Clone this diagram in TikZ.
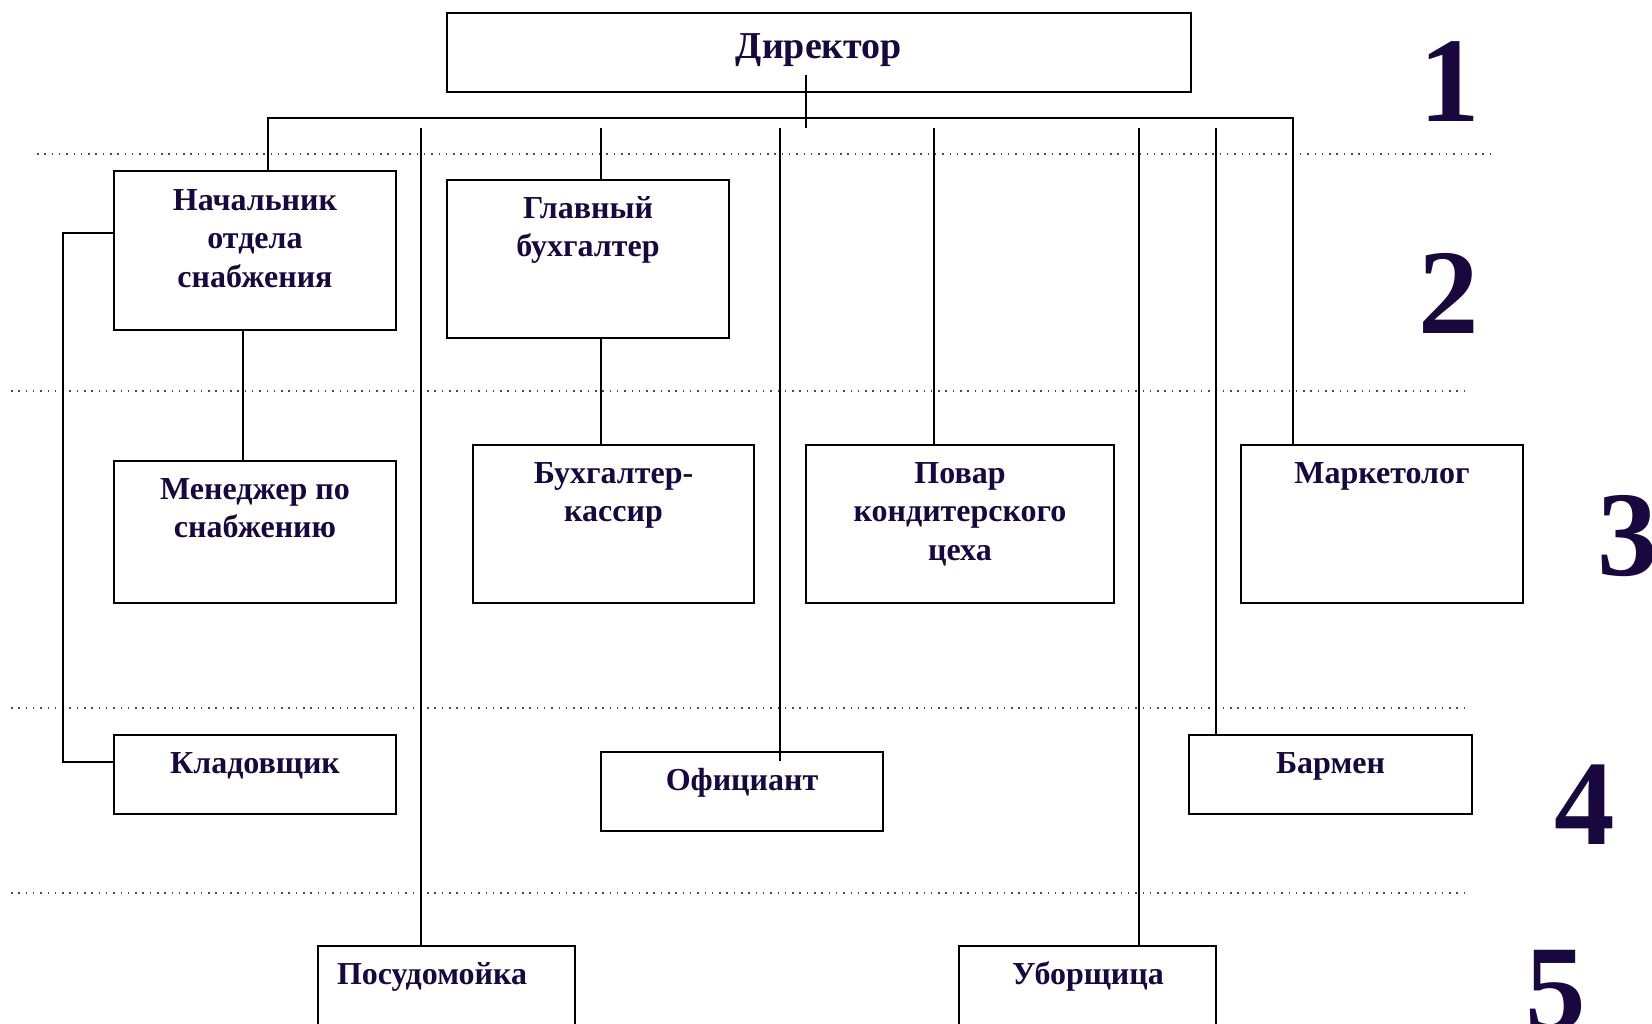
\documentclass[tikz,border=0pt]{standalone}
\usepackage{fontspec}
\setmainfont{Liberation Serif}
\definecolor{ink}{RGB}{24,8,62}
\begin{document}
\begin{tikzpicture}[x=1pt,y=-1pt,
  box/.style={draw, line width=2pt, inner sep=0pt, rectangle},
  lbl/.style={text=ink, font=\fontsize{32}{38.5}\selectfont\bfseries, align=center, anchor=base, inner sep=0pt},
  conn/.style={line width=1.6pt},
  dots/.style={line width=1.5pt, black!70, dash pattern=on 1.5pt off 5.8pt},
  lvl/.style={text=ink, font=\fontsize{121}{121}\selectfont\bfseries, anchor=base, inner sep=0pt}]
\clip (0,0) rectangle (1652,1023);
\fill[white] (0,0) rectangle (1652,1023);

% dotted level separators
\coordinate (d1a) at (37,154);  \coordinate (d1b) at (1496,154);
\coordinate (d2a) at (11,391);  \coordinate (d2b) at (1470,391);
\coordinate (d3a) at (11,708);  \coordinate (d3b) at (1470,708);
\coordinate (d4a) at (11,893);  \coordinate (d4b) at (1470,893);
\draw[dots] (d1a) -- (d1b);
\draw[dots] (d2a) -- (d2b);
\draw[dots] (d3a) -- (d3b);
\draw[dots] (d4a) -- (d4b);

% boxes
\node[box, minimum width=744pt, minimum height=79pt] (dir) at (819,52.5) {};
\node[box, minimum width=282pt, minimum height=159pt] (nach) at (255,250.5) {};
\node[box, minimum width=282pt, minimum height=158pt] (glav) at (588,259) {};
\node[box, minimum width=282pt, minimum height=142pt] (men) at (255,532) {};
\node[box, minimum width=281pt, minimum height=158pt] (kass) at (613.5,524) {};
\node[box, minimum width=308pt, minimum height=158pt] (pov) at (960,524) {};
\node[box, minimum width=282pt, minimum height=158pt] (mark) at (1382,524) {};
\node[box, minimum width=282pt, minimum height=79pt] (klad) at (255,774.5) {};
\node[box, minimum width=282pt, minimum height=79pt] (ofic) at (742,791.5) {};
\node[box, minimum width=283pt, minimum height=79pt] (barm) at (1330.5,774.5) {};
\node[box, minimum width=257pt, minimum height=110pt] (posud) at (446.5,1001) {};
\node[box, minimum width=257pt, minimum height=110pt] (ubor) at (1087.5,1001) {};

% texts (base anchor = baseline of the last line)
\node[lbl, font=\fontsize{38}{44}\selectfont\bfseries] (tdir) at (819,58) {Директор};
\node[lbl] (tnach) at (255,287) {Начальник\\отдела\\снабжения};
\node[lbl] (tglav) at (588,256.5) {Главный\\бухгалтер};
\node[lbl] (tmen) at (255,537.5) {Менеджер по\\снабжению};
\node[lbl] (tkass) at (613.5,521.5) {Бухгалтер-\\кассир};
\node[lbl] (tpov) at (960,560) {Повар\\кондитерского\\цеха};
\node[lbl] (tmark) at (1382,483) {Маркетолог};
\node[lbl] (tklad) at (255,773) {Кладовщик};
\node[lbl] (tofic) at (742,790) {Официант};
\node[lbl] (tbarm) at (1330.5,773) {Бармен};
\node[lbl] (tposud) at (432,984) {Посудомойка};
\node[lbl] (tubor) at (1088,984) {Уборщица};

% level numbers
\node[lvl] (n1) at (1450,121) {1};
\node[lvl] (n2) at (1449,333) {2};
\node[lvl] (n3) at (1628,575) {3};
\node[lvl] (n4) at (1585,844) {4};
\node[lvl] (n5) at (1556,1029) {5};

% connectors
\coordinate (stemtop) at (806,75);
\coordinate (stembot) at (806,128);
\draw[conn] (stemtop) -- (stembot);
\coordinate (busL) at (268,118);
\coordinate (busR) at (1293,118);
\draw[conn] (busL |- nach.north) -- (busL) -- (busR) -- (busR |- mark.north);

\coordinate (t1) at (421,128);
\coordinate (t2) at (601,128);
\coordinate (t3) at (780,128);
\coordinate (t4) at (934,128);
\coordinate (t5) at (1139,128);
\coordinate (t6) at (1216,128);
\coordinate (ofend) at (780,761);
\draw[conn] (t1) -- (t1 |- posud.north);
\draw[conn] (t2) -- (t2 |- glav.north);
\draw[conn] (t2 |- glav.south) -- (t2 |- kass.north);
\draw[conn] (t3) -- (ofend);
\draw[conn] (t4) -- (t4 |- pov.north);
\draw[conn] (t5) -- (t5 |- ubor.north);
\draw[conn] (t6) -- (t6 |- barm.north);

\coordinate (nm) at (243,330);
\draw[conn] (nm |- nach.south) -- (nm |- men.north);

\coordinate (brtop) at (63,233);
\coordinate (brbot) at (63,762);
\draw[conn] (nach.west |- brtop) -- (brtop) -- (brbot) -- (klad.west |- brbot);
\end{tikzpicture}
\end{document}
